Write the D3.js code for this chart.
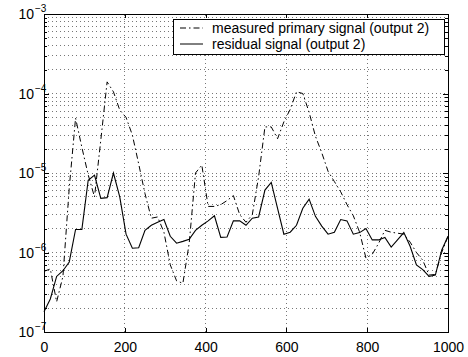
<!DOCTYPE html>
<html>
<head>
<meta charset="utf-8">
<script src="https://cdn.jsdelivr.net/npm/d3@7"></script>
<style>
  body { margin: 0; background: #fff; }
  svg { display: block; font-family: "Liberation Sans", Arial, sans-serif; }
</style>
</head>
<body>
<div id="chart"></div>
<script>
// sample positions (x axis)
const xVals = [0, 15.625, 31.25, 46.875, 62.5, 78.125, 93.75, 109.375, 125, 140.625,
  156.25, 171.875, 187.5, 203.125, 218.75, 234.375, 250, 265.625, 281.25, 296.875,
  312.5, 328.125, 343.75, 359.375, 375, 390.625, 406.25, 421.875, 437.5, 453.125,
  468.75, 484.375, 500, 515.625, 531.25, 546.875, 562.5, 578.125, 593.75, 609.375,
  625, 640.625, 656.25, 671.875, 687.5, 703.125, 718.75, 734.375, 750, 765.625,
  781.25, 796.875, 812.5, 828.125, 843.75, 859.375, 875, 890.625, 906.25, 921.875,
  937.5, 953.125, 968.75, 984.375, 1000];

// measured primary signal (output 2)
const measured = [5.8e-7, 6.2e-7, 2.4e-7, 5.0e-7, 6.5e-6, 4.9e-5, 2.1e-5, 9.5e-6, 5.0e-6, 2.6e-5,
  1.4e-4, 1.05e-4, 6.2e-5, 5.0e-5, 3.0e-5, 1.3e-5, 5.5e-6, 2.7e-6, 2.8e-6, 1.8e-6,
  7.0e-7, 4.4e-7, 4.1e-7, 1.3e-6, 1.0e-5, 1.26e-5, 3.8e-6, 3.8e-6, 4.0e-6, 4.5e-6,
  5.2e-6, 3.0e-6, 2.4e-6, 3.0e-6, 9.0e-6, 3.8e-5, 3.8e-5, 2.7e-5, 4.4e-5, 6.3e-5,
  1.05e-4, 1.0e-4, 5.8e-5, 2.9e-5, 1.8e-5, 1.05e-5, 7.8e-6, 5.8e-6, 4.0e-6, 2.9e-6,
  1.8e-6, 8.5e-7, 9.5e-7, 1.3e-6, 1.9e-6, 1.8e-6, 1.75e-6, 1.7e-6, 1.35e-6, 1.0e-6,
  8.0e-7, 5.2e-7, 5.3e-7, 1.0e-6, 1.6e-6];

// residual signal (output 2)
const residual = [1.8e-7, 2.6e-7, 5.0e-7, 5.9e-7, 7.6e-7, 1.95e-6, 1.95e-6, 8.1e-6, 9.4e-6, 4.8e-6,
  4.9e-6, 1.0e-5, 5.0e-6, 1.7e-6, 1.13e-6, 1.15e-6, 1.9e-6, 2.2e-6, 2.4e-6, 2.6e-6,
  1.6e-6, 1.31e-6, 1.38e-6, 1.47e-6, 1.9e-6, 2.2e-6, 2.5e-6, 2.9e-6, 1.55e-6, 1.57e-6,
  2.5e-6, 2.5e-6, 2.2e-6, 2.7e-6, 2.8e-6, 6.1e-6, 7.6e-6, 3.6e-6, 1.7e-6, 1.8e-6,
  2.2e-6, 3.6e-6, 4.7e-6, 2.85e-6, 2.15e-6, 1.7e-6, 1.8e-6, 2.6e-6, 2.5e-6, 1.7e-6,
  1.78e-6, 2.0e-6, 1.44e-6, 1.44e-6, 1.55e-6, 1.17e-6, 1.44e-6, 1.78e-6, 1.2e-6, 7.0e-7,
  6.1e-7, 5.0e-7, 5.2e-7, 1.07e-6, 1.6e-6];

const xTicks = [0, 200, 400, 600, 800, 1000];
const yTicks = [1e-7, 1e-6, 1e-5, 1e-4, 1e-3];
const yExps = ["\u22127", "\u22126", "\u22125", "\u22124", "\u22123"];
const legendLabels = ["measured primary signal (output 2)", "residual signal (output 2)"];

let width = 468, height = 357;
let margin = {left: 44, right: 20, top: 14, bottom: 25};

let svg = d3.select("#chart").append("svg")
  .attr("width", width)
  .attr("height", height);

let x = d3.scaleLinear().domain([0, 1000]).range([margin.left, width - margin.right]);
let y = d3.scaleLog().domain([1e-7, 1e-3]).range([height - margin.bottom, margin.top]);

// minor values for the log grid (1..9 per decade)
let minorVals = [];
for (let e = -7; e < -3; e++) {
  for (let k = 1; k < 10; k++) minorVals.push(k * Math.pow(10, e));
}
minorVals.push(1e-3);

let gridGroup = svg.append("g").attr("class", "grid");
gridGroup.selectAll("line.h")
  .data(minorVals.filter(v => v > 1e-7 && v < 1e-3)).enter()
  .append("line").attr("class", "h")
  .attr("x1", x(0)).attr("x2", x(1000))
  .attr("y1", d => y(d)).attr("y2", d => y(d))
  .attr("stroke", "#777").attr("stroke-width", 1)
  .style("stroke-dasharray", "1,3")
  .attr("shape-rendering", "crispEdges");
gridGroup.selectAll("line.v")
  .data(xTicks.filter(v => v > 0 && v < 1000)).enter()
  .append("line").attr("class", "v")
  .attr("x1", d => x(d)).attr("x2", d => x(d))
  .attr("y1", y(1e-7)).attr("y2", y(1e-3))
  .attr("stroke", "#777").attr("stroke-width", 1)
  .style("stroke-dasharray", "1,3")
  .attr("shape-rendering", "crispEdges");

// axes: ticks point inwards
let axisG = svg.append("g").attr("class", "axes");
function minorTicks(g, axis, pos) {
  g.append("g").attr("transform", pos)
    .call(axis)
    .call(s => s.select(".domain").remove())
    .call(s => s.selectAll("text").remove())
    .call(s => s.selectAll("line").attr("shape-rendering", "crispEdges"));
}
minorTicks(axisG, d3.axisLeft(y).tickValues(minorVals).tickSize(-3), "translate(" + x(0) + ",0)");
minorTicks(axisG, d3.axisRight(y).tickValues(minorVals).tickSize(-3), "translate(" + x(1000) + ",0)");
minorTicks(axisG, d3.axisLeft(y).tickValues(yTicks).tickSize(-5), "translate(" + x(0) + ",0)");
minorTicks(axisG, d3.axisRight(y).tickValues(yTicks).tickSize(-5), "translate(" + x(1000) + ",0)");
minorTicks(axisG, d3.axisTop(x).tickValues(xTicks).tickSize(-4), "translate(0," + y(1e-3) + ")");

let xAxis = axisG.append("g")
  .attr("transform", "translate(0," + y(1e-7) + ")")
  .call(d3.axisBottom(x).tickValues(xTicks).tickSize(-4).tickPadding(10).tickFormat(d3.format("d")));
xAxis.select(".domain").remove();
xAxis.selectAll("line").attr("shape-rendering", "crispEdges");
xAxis.selectAll("text")
  .attr("font-size", 14)
  .attr("fill", "#000")
  .attr("font-family", "Liberation Sans, Arial, sans-serif");

// y labels as 10 with a superscript exponent
let yLab = axisG.append("g");
yTicks.forEach(function(v, i) {
  let t = yLab.append("text")
    .attr("x", x(0) - 10)
    .attr("y", y(v) + 5)
    .attr("text-anchor", "end")
    .attr("font-size", 14)
    .attr("fill", "#000");
  t.append("tspan").text("10");
  yLab.append("text")
    .attr("x", x(0) - 9)
    .attr("y", y(v) - 2)
    .attr("font-size", 10)
    .attr("fill", "#000")
    .text(yExps[i]);
});

// frame
svg.append("rect")
  .attr("x", x(0)).attr("y", y(1e-3))
  .attr("width", x(1000) - x(0)).attr("height", y(1e-7) - y(1e-3))
  .attr("fill", "none").attr("stroke", "#000").attr("stroke-width", 1)
  .attr("shape-rendering", "crispEdges");

// series
let line = d3.line().x((d, i) => x(xVals[i])).y(d => y(d));
svg.append("path")
  .datum(measured)
  .attr("d", line)
  .attr("fill", "none").attr("stroke", "#000").attr("stroke-width", 1)
  .style("stroke-dasharray", "6,3,1.5,3");
svg.append("path")
  .datum(residual)
  .attr("d", line)
  .attr("fill", "none").attr("stroke", "#000").attr("stroke-width", 1.1);

// legend
let lg = svg.append("g").attr("class", "legend");
lg.append("rect")
  .attr("x", 173).attr("y", 19)
  .attr("width", 271).attr("height", 35)
  .attr("fill", "#fff").attr("stroke", "#000").attr("stroke-width", 1)
  .attr("shape-rendering", "crispEdges");
let dashes = ["6,3,1.5,3", null];
legendLabels.forEach(function(lbl, i) {
  let yy = 28 + i * 16;
  lg.append("line")
    .attr("x1", 180).attr("x2", 203)
    .attr("y1", yy).attr("y2", yy)
    .attr("stroke", "#000").attr("stroke-width", 1)
    .style("stroke-dasharray", dashes[i]);
  lg.append("text")
    .attr("x", 212).attr("y", yy + 5)
    .attr("font-size", 14)
    .attr("fill", "#000")
    .text(lbl);
});
</script>
</body>
</html>
